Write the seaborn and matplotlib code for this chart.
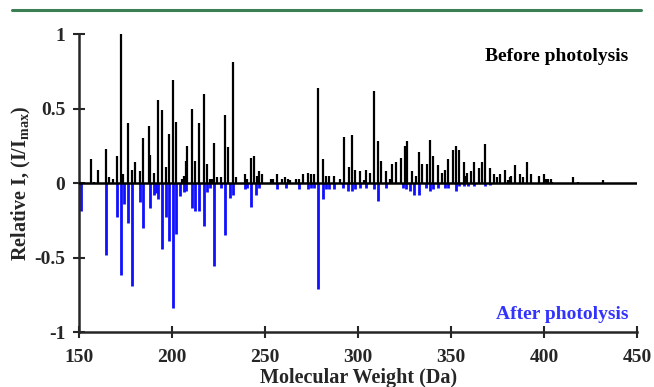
import numpy as np
import pandas as pd
import seaborn as sns
import matplotlib.pyplot as plt
from matplotlib.lines import Line2D

# before photolysis (positive sticks)
before_mw = [156.5, 158, 160, 164.5, 166, 168, 170.5, 172.5, 173.5, 176.5, 178.5, 180, 182.5, 184.5,
             187.5, 188, 190.5, 192.5, 194.5, 196.5, 198.5, 200.5, 202, 205.5, 206.5, 207.5, 208, 210.5,
             212.5, 214.5, 217, 218.5, 220.5, 221.5, 222.5, 224, 226.5, 228.5, 230, 232.5, 234.5, 239,
             240.5, 242.5, 244, 245.5, 246.5, 248.5, 253, 254.5, 256.5, 259, 260.5, 262.5, 263.5, 266.5,
             268.5, 270.5, 273, 274.5, 276.5, 278.5, 281, 282.5, 284.5, 287, 290.5, 292.5, 295, 296.5,
             298.5, 301, 303, 304.5, 306.5, 308.5, 310.5, 312.5, 315, 317, 318.5, 320.5, 323, 325, 326.5,
             329, 331, 332.5, 334.5, 337, 338.5, 340.5, 343, 345, 346.5, 348.5, 351, 352.5, 354.5, 357,
             357.5, 358.5, 360.5, 362.5, 365, 366.5, 368.5, 371, 373, 374.5, 376.5, 379, 380.5, 381.5,
             382.5, 384.5, 387, 388.5, 391, 393, 397.5, 400, 401, 402, 403.5, 404.5, 415.5, 418.5, 431.5]
before_int = [0.16, 0.01, 0.09, 0.23, 0.04, 0.03, 0.18, 1.00, 0.06, 0.40, 0.09, 0.14, 0.08, 0.30,
              0.38, 0.19, 0.07, 0.56, 0.49, 0.11, 0.33, 0.69, 0.41, 0.03, 0.05, 0.15, 0.25, 0.50,
              0.15, 0.40, 0.60, 0.13, 0.03, 0.03, 0.27, 0.04, 0.04, 0.46, 0.24, 0.81, 0.04, 0.06,
              0.03, 0.17, 0.18, 0.05, 0.08, 0.06, 0.03, 0.03, 0.06, 0.03, 0.04, 0.03, 0.02, 0.03,
              0.03, 0.06, 0.07, 0.06, 0.06, 0.64, 0.16, 0.05, 0.05, 0.05, 0.03, 0.31, 0.11, 0.32,
              0.09, 0.08, 0.02, 0.09, 0.07, 0.62, 0.28, 0.15, 0.08, 0.03, 0.13, 0.14, 0.17, 0.25, 0.28,
              0.08, 0.05, 0.21, 0.13, 0.13, 0.29, 0.18, 0.12, 0.07, 0.09, 0.16, 0.22, 0.25, 0.22, 0.14,
              0.05, 0.07, 0.08, 0.14, 0.10, 0.14, 0.26, 0.10, 0.06, 0.04, 0.06, 0.09, 0.02, 0.04,
              0.05, 0.12, 0.06, 0.04, 0.14, 0.06, 0.05, 0.06, 0.03, 0.03, 0.03, 0.01, 0.04, 0.01, 0.02]

# after photolysis (negative sticks)
after_mw = [151, 164.5, 170.5, 172.5, 174, 176.5, 178.5, 182.5, 184.5, 188, 190.5, 191.5, 192.5, 194.5,
            196.5, 198.5, 200.5, 202, 204.5, 206.5, 207.5, 210.5, 212.5, 214.5, 217, 218.5, 220.5, 222.5,
            226.5, 228.5, 231, 232.5, 239, 240.5, 242.5, 245, 246.5, 256.5, 261, 268.5, 273, 274.5,
            276.5, 278.5, 281, 282.5, 284.5, 287, 292, 294.5, 296.5, 298.5, 301, 304.5, 308.5, 310.5,
            315, 324, 326, 328, 330, 332.5, 336.5, 338.5, 340.5, 343, 346.5, 348.5, 352.5, 354.5,
            357, 359, 362.5, 368.5, 371]
after_int = [-0.19, -0.48, -0.23, -0.62, -0.14, -0.27, -0.69, -0.13, -0.30, -0.17, -0.08, -0.07, -0.11, -0.44,
             -0.23, -0.39, -0.84, -0.34, -0.09, -0.06, -0.05, -0.17, -0.19, -0.19, -0.29, -0.06, -0.03, -0.56,
             -0.03, -0.35, -0.10, -0.08, -0.04, -0.03, -0.16, -0.08, -0.03, -0.04, -0.03, -0.04, -0.04, -0.03,
             -0.03, -0.71, -0.11, -0.04, -0.04, -0.04, -0.03, -0.05, -0.05, -0.04, -0.03, -0.03, -0.04, -0.12,
             -0.03, -0.03, -0.04, -0.05, -0.08, -0.08, -0.03, -0.05, -0.04, -0.03, -0.03, -0.03, -0.05, -0.02,
             -0.02, -0.02, -0.02, -0.02, -0.01]

xticks = [150, 200, 250, 300, 350, 400, 450]
yticks = [-1, -0.5, 0, 0.5, 1]
ytick_labels = ['-1', '-0.5', '0', '0.5', '1']

df_before = pd.DataFrame({'mw': before_mw, 'intensity': before_int})
df_after = pd.DataFrame({'mw': after_mw, 'intensity': after_int})

sns.set_style('ticks')
plt.rcParams['font.family'] = ['Liberation Serif', 'DejaVu Serif']
plt.rcParams['font.weight'] = 'bold'
plt.rcParams['mathtext.fontset'] = 'custom'
plt.rcParams['mathtext.rm'] = 'Liberation Serif:bold'
plt.rcParams['mathtext.it'] = 'Liberation Serif:bold'
plt.rcParams['mathtext.bf'] = 'Liberation Serif:bold'

fig = plt.figure(figsize=(6.54, 3.87), dpi=100)
ax = fig.add_axes([0.121, 0.142, 0.853, 0.770])

ax.vlines(df_after['mw'], 0, df_after['intensity'], color='#1010ff', linewidth=2.0)
ax.vlines(df_before['mw'], 0, df_before['intensity'], color='black', linewidth=1.6)
ax.axhline(0, color='black', linewidth=1.8, zorder=5)

ax.set_xlim(150, 450)
ax.set_ylim(-1, 1)
ax.set_xticks(xticks)
ax.set_yticks(yticks)
ax.set_yticklabels(ytick_labels)
ax.tick_params(direction='inout', length=8, width=1.5, labelsize=14)
ax.tick_params(axis='x', pad=8)
ax.tick_params(axis='y', pad=6)
for s in ['left', 'bottom']:
    ax.spines[s].set_linewidth(1.8)
sns.despine(ax=ax)

ax.set_xlabel('Molecular Weight (Da)', fontsize=14.5, fontweight='bold', labelpad=2)
ax.set_ylabel('Relative I, (I/I$_{\\mathrm{max}}$)', fontsize=14.5, fontweight='bold', labelpad=1)

ax.text(0.985, 0.925, 'Before photolysis', transform=ax.transAxes, ha='right', va='center',
        fontsize=14, fontweight='bold', color='black')
ax.text(0.985, 0.06, 'After photolysis', transform=ax.transAxes, ha='right', va='center',
        fontsize=14, fontweight='bold', color='#3333ff')

# green rule at the top of the figure
fig.add_artist(Line2D([0.018, 0.98], [0.974, 0.974], transform=fig.transFigure,
                      color='#3d7f55', linewidth=2.2))

fig.savefig('out.png', dpi=100)
